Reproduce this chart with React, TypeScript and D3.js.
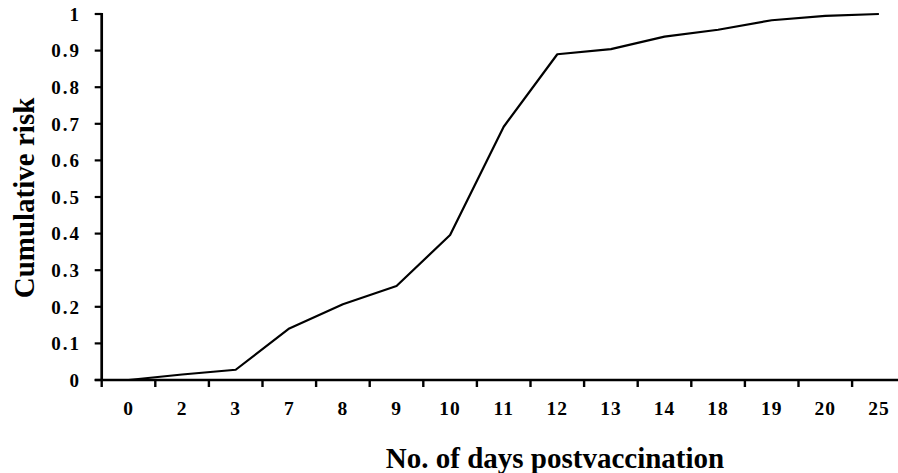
import React from "react";
import * as d3 from "d3";

const days = ["0", "2", "3", "7", "8", "9", "10", "11", "12", "13", "14", "18", "19", "20", "25"];
const risk = [0, 0.015, 0.028, 0.141, 0.207, 0.257, 0.396, 0.692, 0.89, 0.904, 0.938, 0.957, 0.983, 0.995, 1.0];
const yTicks = [0, 0.1, 0.2, 0.3, 0.4, 0.5, 0.6, 0.7, 0.8, 0.9, 1];
const xTitle = "No. of days postvaccination";
const yTitle = "Cumulative risk";

const W = 898;
const H = 473;
const FONT = "'Liberation Serif', 'Times New Roman', serif";

export default function App() {
  const x = d3.scaleBand<string>().domain(days).range([101.7, 905.7]).padding(0);
  const y = d3.scaleLinear().domain([0, 1]).range([380, 14]);
  const line = d3
    .line<number>()
    .x((_, i) => (x(days[i]) as number) + x.bandwidth() / 2)
    .y((d) => y(d));
  const x0 = x.range()[0];
  const x1 = x.range()[1];
  const boundaries = days.map((d) => x(d) as number).concat([x1]);

  return (
    <svg
      width={W}
      height={H}
      style={{ position: "absolute", left: 0, top: 0, background: "#fff" }}
      fontFamily={FONT}
      fontWeight="bold"
    >
      <rect x={0} y={0} width={W} height={H} fill="#fff" />
      {/* y axis */}
      <line x1={x0} x2={x0} y1={y(1) - 1} y2={y(0) + 1} stroke="#000" strokeWidth={2.7} />
      {yTicks.map((t) => (
        <g key={t}>
          <line x1={x0 - 7} x2={x0} y1={y(t)} y2={y(t)} stroke="#000" strokeWidth={2.2} />
          <text
            x={81}
            y={y(t)}
            dy="0.36em"
            textAnchor="end"
            fontSize={19}
            letterSpacing={2}
            fill="#000"
          >
            {t === 0 ? "0" : t === 1 ? "1" : t.toFixed(1)}
          </text>
        </g>
      ))}
      {/* x axis */}
      <line x1={x0 - 7} x2={x1} y1={y(0)} y2={y(0)} stroke="#000" strokeWidth={2.7} />
      {boundaries.map((b, i) => (
        <line key={i} x1={b} x2={b} y1={y(0)} y2={y(0) + 7} stroke="#000" strokeWidth={2.4} />
      ))}
      {days.map((d) => (
        <text
          key={d}
          x={(x(d) as number) + x.bandwidth() / 2}
          y={415}
          textAnchor="middle"
          fontSize={19.5}
          letterSpacing={1}
          fill="#000"
        >
          {d}
        </text>
      ))}
      {/* data line */}
      <path d={line(risk) || ""} fill="none" stroke="#000" strokeWidth={2.2} strokeLinejoin="round" />
      {/* titles */}
      <text x={555} y={468} textAnchor="middle" fontSize={29} fill="#000">
        {xTitle}
      </text>
      <text
        transform={`translate(34, 198) rotate(-90)`}
        textAnchor="middle"
        fontSize={29}
        fill="#000"
      >
        {yTitle}
      </text>
    </svg>
  );
}
